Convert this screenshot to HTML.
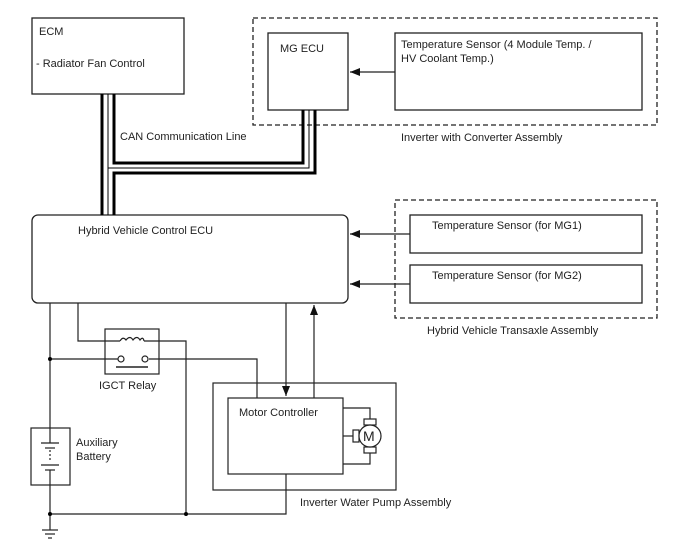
<!DOCTYPE html>
<html><head><style>
body{margin:0;background:#fff}
svg{display:block}
text{font-family:"Liberation Sans",sans-serif;font-size:11px;fill:#222}
</style></head><body>
<svg width="688" height="560" viewBox="0 0 688 560">
<defs><marker id="a" markerWidth="10" markerHeight="8" refX="10" refY="4" orient="auto" markerUnits="userSpaceOnUse"><path d="M0,0 L10,4 L0,8 z" fill="#111"/></marker></defs>
<g fill="none" stroke="#222" stroke-width="1.3">
<rect x="32" y="18" width="152" height="76"/>
<rect x="253" y="18" width="404" height="107" stroke-dasharray="5,3"/>
<rect x="268" y="33" width="80" height="77"/>
<rect x="395" y="33" width="247" height="77"/>
<line x1="395" y1="72" x2="350" y2="72" marker-end="url(#a)"/>
<rect x="32" y="215" width="316" height="88" rx="6"/>
<rect x="395" y="200" width="262" height="118" stroke-dasharray="5,3"/>
<rect x="410" y="215" width="232" height="38"/>
<rect x="410" y="265" width="232" height="38"/>
<line x1="410" y1="234" x2="350" y2="234" marker-end="url(#a)"/>
<line x1="410" y1="284" x2="350" y2="284" marker-end="url(#a)"/>
</g>
<g fill="none" stroke="#000">
<polyline points="114,94 114,163 303,163 303,110" stroke-width="3"/>
<polyline points="108,94 108,215" stroke-width="1"/>
<polyline points="108,168 309,168 309,110" stroke-width="1"/>
<polyline points="102,94 102,215" stroke-width="3"/>
<polyline points="114,215 114,173 315,173 315,110" stroke-width="3"/>
</g>
<g fill="none" stroke="#222" stroke-width="1.2">
<line x1="50" y1="303" x2="50" y2="428"/>
<rect x="31" y="428" width="39" height="57"/>
<line x1="41" y1="443" x2="59" y2="443"/><line x1="45" y1="448" x2="55" y2="448"/>
<line x1="50" y1="450" x2="50" y2="462" stroke-dasharray="2,2"/>
<line x1="41" y1="465" x2="59" y2="465"/><line x1="45" y1="470" x2="55" y2="470"/>
<line x1="50" y1="428" x2="50" y2="443"/><line x1="50" y1="470" x2="50" y2="530"/>
<line x1="42" y1="530" x2="58" y2="530"/><line x1="45" y1="534" x2="55" y2="534"/><line x1="48" y1="538" x2="52" y2="538"/>
<polyline points="50,359 118,359"/><polyline points="149,359 257,359 257,398"/>
<rect x="105" y="329" width="54" height="45"/>
<polyline points="78,303 78,341 120,341"/>
<path d="M120,341 q3,-5 6,-1 q4,-5 7,0 q4,-5 7,0 q3,-4 4,1"/>
<polyline points="144,341 186,341 186,514"/>
<circle cx="121" cy="359" r="3"/><circle cx="145" cy="359" r="3"/>
<line x1="116" y1="367" x2="148" y2="367" stroke-width="1.6"/>
<polyline points="50,514 286,514 286,474"/>
<rect x="213" y="383" width="183" height="107"/>
<rect x="228" y="398" width="115" height="76"/>
<line x1="286" y1="303" x2="286" y2="396" marker-end="url(#a)"/>
<line x1="314" y1="398" x2="314" y2="305" marker-end="url(#a)"/>
<polyline points="343,408 370,408 370,419"/><polyline points="343,464 370,464 370,453"/>
<line x1="343" y1="436" x2="353" y2="436"/>
<rect x="364" y="419" width="12" height="6"/><rect x="364" y="447" width="12" height="6"/><rect x="353" y="430" width="6" height="12"/>
<circle cx="370" cy="436" r="11" fill="#fff"/>
</g>
<g fill="#000"><circle cx="50" cy="359" r="2"/><circle cx="50" cy="514" r="2"/><circle cx="186" cy="514" r="2"/></g>
<text x="39" y="35">ECM</text>
<text x="36" y="67">- Radiator Fan Control</text>
<text x="280" y="52">MG ECU</text>
<text x="401" y="48">Temperature Sensor (4 Module Temp. /</text>
<text x="401" y="62">HV Coolant Temp.)</text>
<text x="401" y="141">Inverter with Converter Assembly</text>
<text x="120" y="140">CAN Communication Line</text>
<text x="78" y="234">Hybrid Vehicle Control ECU</text>
<text x="432" y="229">Temperature Sensor (for MG1)</text>
<text x="432" y="279">Temperature Sensor (for MG2)</text>
<text x="427" y="334">Hybrid Vehicle Transaxle Assembly</text>
<text x="99" y="389">IGCT Relay</text>
<text x="76" y="446">Auxiliary</text>
<text x="76" y="460">Battery</text>
<text x="239" y="416">Motor Controller</text>
<text x="363" y="441" style="font-size:14px">M</text>
<text x="300" y="506">Inverter Water Pump Assembly</text>
</svg>
</body></html>
